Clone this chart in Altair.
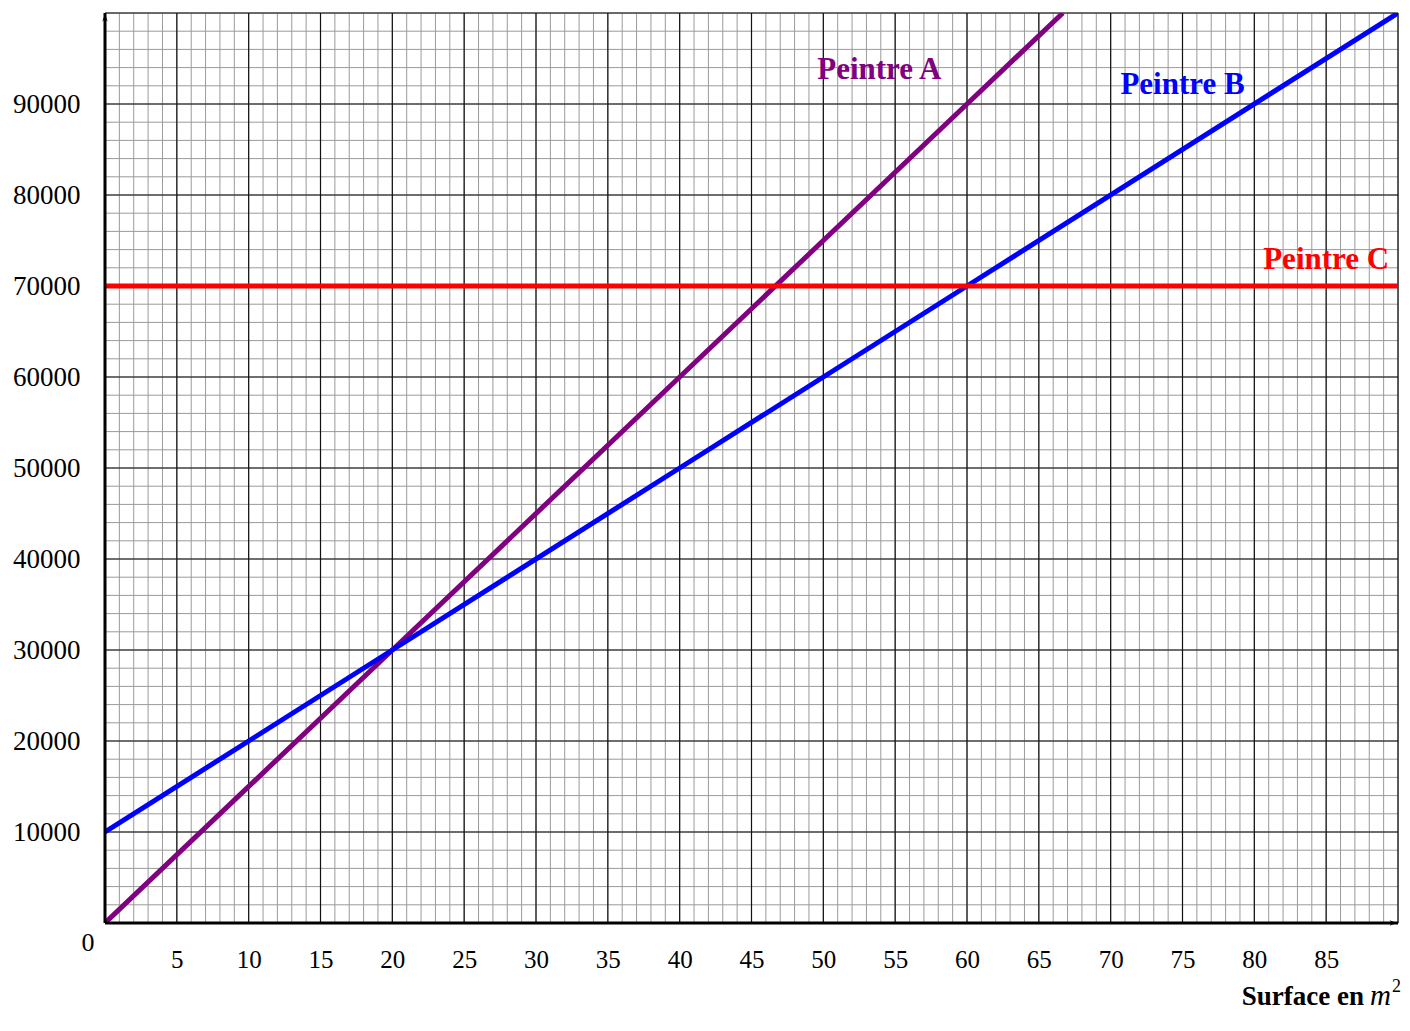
import altair as alt
import pandas as pd

# ---- data ----
x_ticks = [5, 10, 15, 20, 25, 30, 35, 40, 45, 50, 55, 60, 65, 70, 75, 80, 85]
y_ticks = [10000, 20000, 30000, 40000, 50000, 60000, 70000, 80000, 90000]

peintre_a_x = [0, 20, 40, 60, 66.67]
peintre_a_y = [0, 30000, 60000, 90000, 100000]
peintre_b_x = [0, 20, 40, 60, 90]
peintre_b_y = [10000, 30000, 50000, 70000, 100000]
peintre_c_x = [0, 90]
peintre_c_y = [70000, 70000]

label_names = ["Peintre A", "Peintre B", "Peintre C"]
label_x = [53.9, 75.0, 85.0]
label_y = [92700, 91100, 71900]
label_colors = ["#800080", "#0000ff", "#ff0000"]

x_min, x_max = 0, 90
y_min, y_max = 0, 100000
x_minor = list(range(0, 91, 1))
y_minor = list(range(0, 100001, 2000))
x_major = list(range(0, 91, 5))
y_major = list(range(0, 100001, 10000))

SERIF = "Liberation Serif"

xs = alt.Scale(domain=[x_min, x_max], nice=False, zero=False)
ys = alt.Scale(domain=[y_min, y_max], nice=False, zero=False)

X_AX = alt.Axis(values=x_ticks, ticks=False, domain=False, grid=False, title=None,
                labelFont=SERIF, labelFontSize=25, labelColor="black", format="d",
                labelPadding=24, labelFlush=False)
Y_AX = alt.Axis(values=y_ticks, ticks=False, domain=False, grid=False, title=None,
                labelFont=SERIF, labelFontSize=27, labelColor="black", format="d",
                labelPadding=25, labelFlush=False)


def X(field):
    return alt.X(field, scale=xs, axis=X_AX, title=None)


def Y(field):
    return alt.Y(field, scale=ys, axis=Y_AX, title=None)


# ---- grid ----
minor_v = alt.Chart(pd.DataFrame({"x": x_minor})).mark_rule(color="#9a9a9a", strokeWidth=1).encode(x=X("x:Q"))
minor_h = alt.Chart(pd.DataFrame({"y": y_minor})).mark_rule(color="#9a9a9a", strokeWidth=1).encode(y=Y("y:Q"))
major_v = alt.Chart(pd.DataFrame({"x": x_major})).mark_rule(color="#111111", strokeWidth=1.2).encode(x=X("x:Q"))
major_h = alt.Chart(pd.DataFrame({"y": y_major})).mark_rule(color="#111111", strokeWidth=1.2).encode(y=Y("y:Q"))

# ---- thick axis lines ----
x_axis_line = alt.Chart(pd.DataFrame({"x": [x_min], "x2": [x_max], "y": [y_min]})).mark_rule(
    color="black", strokeWidth=3).encode(x=X("x:Q"), x2="x2:Q", y=Y("y:Q"))
y_axis_line = alt.Chart(pd.DataFrame({"y": [y_min], "y2": [y_max], "x": [x_min]})).mark_rule(
    color="black", strokeWidth=3).encode(y=Y("y:Q"), y2="y2:Q", x=X("x:Q"))

arrow_x = alt.Chart(pd.DataFrame({"x": [x_max], "y": [y_min]})).mark_point(
    shape="M-1,-0.6L0.6,0L-1,0.6L-0.5,0Z", filled=True, color="black", size=80, opacity=1, xOffset=-4).encode(
    x=X("x:Q"), y=Y("y:Q"))
arrow_y = alt.Chart(pd.DataFrame({"x": [x_min], "y": [y_max]})).mark_point(
    shape="M-0.6,1L0,-0.6L0.6,1L0,0.5Z", filled=True, color="black", size=80, opacity=1, yOffset=4).encode(
    x=X("x:Q"), y=Y("y:Q"))

# ---- series ----
rows = []
for name, xv, yv in [("Peintre A", peintre_a_x, peintre_a_y),
                     ("Peintre B", peintre_b_x, peintre_b_y),
                     ("Peintre C", peintre_c_x, peintre_c_y)]:
    for a, b in zip(xv, yv):
        rows.append({"serie": name, "x": a, "y": b})
lines_df = pd.DataFrame(rows)

color_scale = alt.Scale(domain=label_names, range=label_colors)

lines = alt.Chart(lines_df).mark_line(strokeWidth=5, clip=True).encode(
    x=X("x:Q"),
    y=Y("y:Q"),
    color=alt.Color("serie:N", scale=color_scale, legend=None),
    detail="serie:N",
)

labels = alt.Chart(pd.DataFrame({"name": label_names, "x": label_x, "y": label_y})).mark_text(
    font=SERIF, fontSize=31, fontWeight="bold", baseline="alphabetic", align="center").encode(
    x=X("x:Q"),
    y=Y("y:Q"),
    text="name:N",
    color=alt.Color("name:N", scale=color_scale, legend=None),
)

origin = alt.Chart(pd.DataFrame({"x": [x_min], "y": [y_min], "t": ["0"]})).mark_text(
    font=SERIF, fontSize=26, color="black", align="center", baseline="middle", dx=-17, dy=20).encode(
    x=X("x:Q"), y=Y("y:Q"), text="t:N")

title_a = alt.Chart(pd.DataFrame({"t": ["Surface en"]})).mark_text(
    font=SERIF, fontSize=27, fontWeight="bold", color="black", align="right", baseline="alphabetic").encode(
    x=alt.value(1259), y=alt.value(992), text="t:N")
title_b = alt.Chart(pd.DataFrame({"t": ["m"]})).mark_text(
    font=SERIF, fontSize=29, fontStyle="italic", color="black", align="left", baseline="alphabetic").encode(
    x=alt.value(1265), y=alt.value(992), text="t:N")
title_c = alt.Chart(pd.DataFrame({"t": ["2"]})).mark_text(
    font=SERIF, fontSize=18, color="black", align="left", baseline="alphabetic").encode(
    x=alt.value(1287), y=alt.value(979), text="t:N")

chart = alt.layer(
    minor_v, minor_h, major_v, major_h,
    lines, x_axis_line, y_axis_line, arrow_x, arrow_y,
    labels, origin, title_a, title_b, title_c,
).properties(
    width=1293, height=910,
    autosize=alt.AutoSizeParams(type="none"),
    padding={"left": 97, "top": 5, "right": 4, "bottom": 90},
).configure_view(stroke=None).configure(background="white")

chart.save("out.html", embed_options={"renderer": "svg", "actions": False})
